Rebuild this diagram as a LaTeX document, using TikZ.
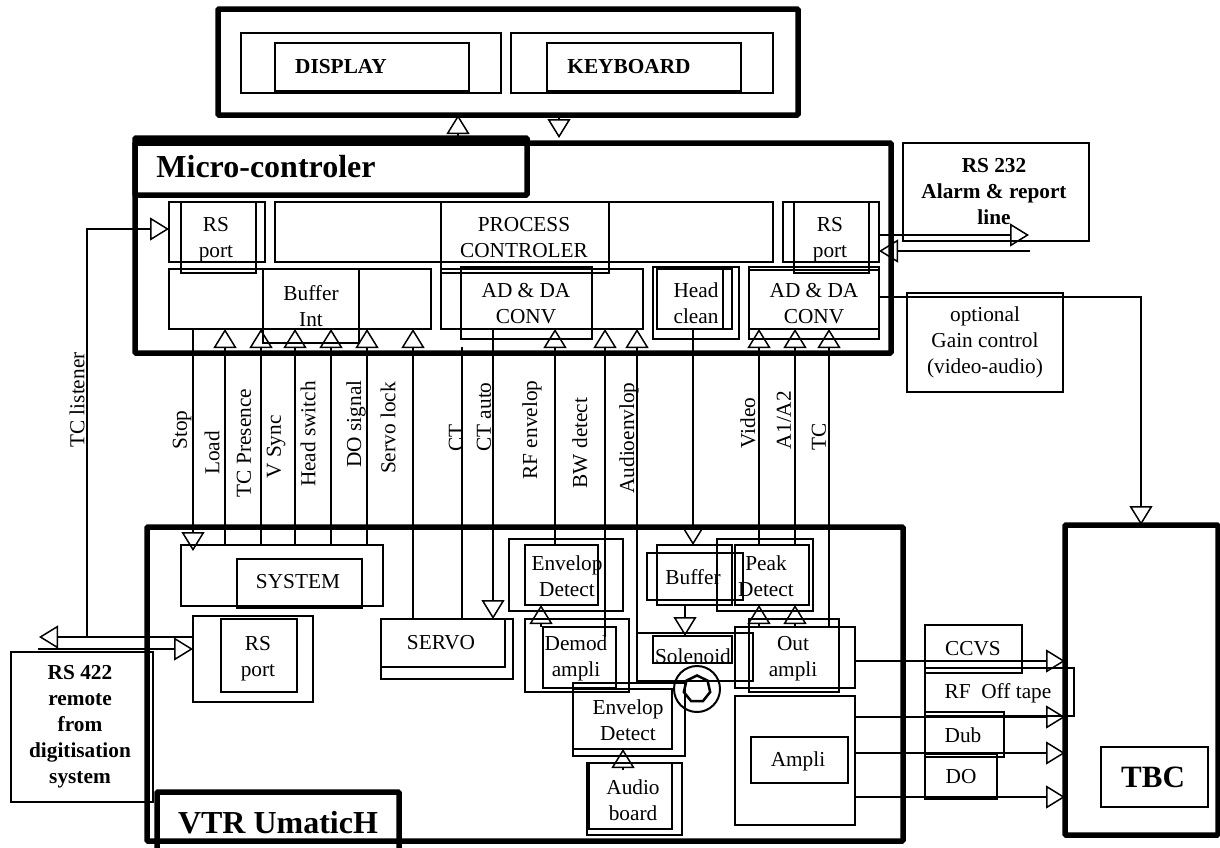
\documentclass[tikz,border=0pt]{standalone}
\usepackage{fontspec}
\setmainfont{Liberation Serif}
\usetikzlibrary{arrows.meta,shapes.geometric}
\tikzset{
  vtr/thin/.style={draw=black, line width=1.5pt, inner sep=0pt, outer sep=0pt},
  vtr/heavy/.style={draw=black, line width=5.5pt, inner sep=0pt, outer sep=0pt, rounded corners=1pt},
  vtr/wire/.style={draw=black, line width=1.5pt},
  vtr/arrow/.style={-{Triangle[open,length=19pt,width=23pt]}, line width=1.5pt, draw=black},
  vtr/label/.style={font=\fontsize{21.3}{26}\selectfont, align=center, inner sep=0pt},
  vtr/note/.style={font=\bfseries\fontsize{21.3}{26}\selectfont, align=center, inner sep=0pt},
  vtr/title/.style={font=\bfseries\fontsize{32}{38}\selectfont, inner sep=0pt},
  vtr/signal/.style={font=\fontsize{21.3}{26}\selectfont, rotate=90, inner sep=0pt}
}
\begin{document}
\begin{tikzpicture}[x=1pt,y=-1pt]
  \useasboundingbox (0,0) rectangle (1220,847);
  \node[vtr/heavy,minimum width=580pt,minimum height=106pt] (panel) at (508,62) {};
  \node[vtr/thin,minimum width=260pt,minimum height=60pt] (dispOut) at (371,63) {};
  \node[vtr/thin,minimum width=194pt,minimum height=48pt] (dispIn) at (372,67) {};
  \node[vtr/thin,minimum width=262pt,minimum height=60pt] (keyOut) at (642,63) {};
  \node[vtr/thin,minimum width=194pt,minimum height=48pt] (keyIn) at (644,67) {};
  \node[vtr/note] (dispText) at (341,67) {DISPLAY};
  \node[vtr/note] (keyText) at (629,67) {KEYBOARD};

  \node[vtr/heavy,minimum width=756pt,minimum height=210pt] (micro) at (513,248) {};
  \node[vtr/heavy,minimum width=392pt,minimum height=57pt] (microTitle) at (331,166.5) {};
  \node[vtr/title] (microText) at (266,167) {Micro-controler};
  \node[vtr/thin,minimum width=96pt,minimum height=60pt] (rsOut) at (217,232) {};
  \node[vtr/thin,minimum width=75pt,minimum height=71pt] (rsIn) at (218.5,237.5) {};
  \node[vtr/label] (rsText) at (216,239.5) {RS\\port};
  \node[vtr/thin,minimum width=498pt,minimum height=60pt] (procOut) at (524,232) {};
  \node[vtr/thin,minimum width=168pt,minimum height=71pt] (procIn) at (525,237.5) {};
  \node[vtr/label] (procText) at (524,238) {PROCESS\\CONTROLER};
  \node[vtr/thin,minimum width=96pt,minimum height=60pt] (rsrOut) at (831,232) {};
  \node[vtr/thin,minimum width=75pt,minimum height=71pt] (rsrIn) at (831.5,237.5) {};
  \node[vtr/label] (rsrText) at (830,239.5) {RS\\port};
  \node[vtr/thin,minimum width=262pt,minimum height=60pt] (bufOut) at (300,299) {};
  \node[vtr/thin,minimum width=96pt,minimum height=74pt] (bufIn) at (311,306) {};
  \node[vtr/label] (bufText) at (311,306) {Buffer\\Int};
  \node[vtr/thin,minimum width=202pt,minimum height=60pt] (adOut) at (542,299) {};
  \node[vtr/thin,minimum width=131pt,minimum height=72pt] (adIn) at (526.5,303) {};
  \node[vtr/label] (adText) at (526,304) {AD \& DA\\CONV};
  \node[vtr/thin,minimum width=86pt,minimum height=72pt] (headOut) at (696,303) {};
  \node[vtr/thin,minimum width=75pt,minimum height=60pt] (headIn) at (694.5,299) {};
  \node[vtr/thin,minimum width=66pt,minimum height=60pt] (headStrip) at (690,299) {};
  \node[vtr/label] (headText) at (696,303) {Head\\clean};
  \node[vtr/thin,minimum width=130pt,minimum height=72pt] (adrOut) at (814,303) {};
  \node[vtr/thin,minimum width=130pt,minimum height=59pt] (adrIn) at (814,299.5) {};
  \node[vtr/label] (adrText) at (814,304) {AD \& DA\\CONV};

  \node[vtr/thin,minimum width=186pt,minimum height=98pt] (rsAlarm) at (996,192) {};
  \node[vtr/note] (rsAlarmText) at (994,192) {RS 232\\Alarm \& report\\line};
  \node[vtr/thin,minimum width=156pt,minimum height=99pt] (gain) at (985,342.5) {};
  \node[vtr/label] (gainText) at (985,342.5) {optional\\Gain control\\(video-audio)};

  \node[vtr/heavy,minimum width=756pt,minimum height=314pt] (vtr) at (525,684) {};
  \node[vtr/heavy,minimum width=242pt,minimum height=62pt] (vtrTitle) at (278,823) {};
  \node[vtr/title] (vtrText) at (278,823) {VTR UmaticH};
  \node[vtr/thin,minimum width=202pt,minimum height=61pt] (sysOut) at (282,575.5) {};
  \node[vtr/thin,minimum width=125pt,minimum height=49pt] (sysIn) at (299.5,583.5) {};
  \node[vtr/label] (sysText) at (298,582) {SYSTEM};
  \node[vtr/thin,minimum width=120pt,minimum height=86pt] (portOut) at (253,659) {};
  \node[vtr/thin,minimum width=76pt,minimum height=73pt] (portIn) at (259,655.5) {};
  \node[vtr/label] (portText) at (258,659) {RS\\port};
  \node[vtr/thin,minimum width=142pt,minimum height=150pt] (remote) at (82,727) {};
  \node[vtr/note] (remoteText) at (80,727) {RS 422\\remote\\from\\digitisation\\system};
  \node[vtr/thin,minimum width=132pt,minimum height=60pt] (servoOut) at (447,649) {};
  \node[vtr/thin,minimum width=124pt,minimum height=48pt] (servoIn) at (443,643) {};
  \node[vtr/label] (servoText) at (441,643) {SERVO};
  \node[vtr/thin,minimum width=114pt,minimum height=72pt] (envOut) at (566,575) {};
  \node[vtr/thin,minimum width=73pt,minimum height=60pt] (envIn) at (561.5,575) {};
  \node[vtr/label] (envText) at (567,576) {Envelop\\Detect};
  \node[vtr/thin,minimum width=104pt,minimum height=73pt] (demodOut) at (577,655.5) {};
  \node[vtr/thin,minimum width=73pt,minimum height=61pt] (demodIn) at (579.5,657.5) {};
  \node[vtr/label] (demodText) at (576,658) {Demod\\ampli};
  \node[vtr/thin,minimum width=96pt,minimum height=47pt] (bufferOut) at (695,576.5) {};
  \node[vtr/thin,minimum width=75pt,minimum height=60pt] (bufferIn) at (694.5,575) {};
  \node[vtr/label] (bufferText) at (693,577) {Buffer};
  \node[vtr/thin,minimum width=96pt,minimum height=72pt] (peakOut) at (765,575) {};
  \node[vtr/thin,minimum width=74pt,minimum height=60pt] (peakIn) at (772,575) {};
  \node[vtr/label] (peakText) at (766,576) {Peak\\Detect};
  \node[vtr/thin,minimum width=116pt,minimum height=48pt] (solOut) at (695,657) {};
  \node[vtr/thin,minimum width=79pt,minimum height=27pt] (solIn) at (692.5,649.5) {};
  \node[vtr/label] (solText) at (693,656) {Solenoid};
  \node[vtr/thin,minimum width=90pt,minimum height=73pt] (outOut) at (794,655.5) {};
  \node[vtr/thin,minimum width=120pt,minimum height=61pt] (outIn) at (795,657.5) {};
  \node[vtr/label] (outText) at (793,659) {Out\\ampli};
  \node[vtr/thin,minimum width=120pt,minimum height=129pt] (ampOut) at (795,760.5) {};
  \node[vtr/thin,minimum width=97pt,minimum height=46pt] (ampIn) at (799.5,760) {};
  \node[vtr/label] (ampText) at (798,761) {Ampli};
  \node[vtr/thin,minimum width=112pt,minimum height=73pt] (lowOut) at (629,719.5) {};
  \node[vtr/thin,minimum width=99pt,minimum height=60pt] (lowIn) at (622.5,719) {};
  \node[vtr/label] (lowText) at (628,720) {Envelop\\Detect};
  \node[vtr/thin,minimum width=95pt,minimum height=72pt] (audioOut) at (634.5,799) {};
  \node[vtr/thin,minimum width=83pt,minimum height=66pt] (audioIn) at (630.5,796) {};
  \node[vtr/label] (audioText) at (633,800) {Audio\\board};
  \node[vtr/thin,circle,minimum size=46pt,line width=2pt] (headRing) at (697,689) {};
  \node[vtr/thin,regular polygon,regular polygon sides=7,minimum size=27pt,line width=2.5pt] (headHub) at (697,689) {};

  \node[vtr/thin,minimum width=97pt,minimum height=48pt] (ccvs) at (973.5,649) {};
  \node[vtr/label] (ccvsText) at (973,649) {CCVS};
  \node[vtr/thin,minimum width=149pt,minimum height=48pt] (rfTape) at (999.5,692) {};
  \node[vtr/label] (rfText) at (998,693) {RF\ \ Off tape};
  \node[vtr/thin,minimum width=79pt,minimum height=45pt] (dub) at (964.5,734.5) {};
  \node[vtr/label] (dubText) at (963,735) {Dub};
  \node[vtr/thin,minimum width=72pt,minimum height=45pt] (doBox) at (961,776.5) {};
  \node[vtr/label] (doText) at (961,777) {DO};

  \node[vtr/heavy,minimum width=153pt,minimum height=310pt] (tbc) at (1141.5,680) {};
  \node[vtr/thin,minimum width=107pt,minimum height=60pt] (tbcIn) at (1154.5,777) {};
  \node[vtr/title,font=\bfseries\fontsize{31}{36}\selectfont] (tbcText) at (1153,777) {TBC};

  \node[vtr/signal] (tcListen) at (77,400) {TC listener};
  \node[vtr/signal] (stopText) at (182,430) {Stop};
  \node[vtr/signal] (loadText) at (212,453) {Load};
  \node[vtr/signal] (tcPres) at (244,443) {TC Presence};
  \node[vtr/signal] (vSync) at (276,447) {V Sync};
  \node[vtr/signal] (headSw) at (308,434) {Head switch};
  \node[vtr/signal] (doSig) at (356,424) {DO signal};
  \node[vtr/signal] (servoLock) at (388,428) {Servo lock};
  \node[vtr/signal] (ctText) at (456,438) {CT};
  \node[vtr/signal] (ctAuto) at (484,417) {CT auto};
  \node[vtr/signal] (rfEnv) at (532,430) {RF envelop};
  \node[vtr/signal] (bwDet) at (580,443) {BW detect};
  \node[vtr/signal] (audioEnv) at (629,438) {Audioenvlop};
  \node[vtr/signal] (videoText) at (748,423) {Video};
  \node[vtr/signal] (aText) at (784,420) {A1/A2};
  \node[vtr/signal] (tcText) at (819,437) {TC};

  \coordinate (stopEnd) at (193,551);
  \coordinate (ctTop) at (462,347);
  \coordinate (bwStart) at (605,637);
  \coordinate (audioStart) at (623,770);
  \coordinate (alarmOut) at (1029,235);
  \coordinate (alarmIn) at (1030,251);
  \coordinate (listenTurn) at (87,637);
  \coordinate (remoteOut) at (39,637);
  \coordinate (remoteIn) at (38,649);

  \draw[vtr/arrow] (microTitle.north -| 458,0) -- (panel.south -| 458,0);
  \draw[vtr/arrow] (panel.south -| 559,0) -- (microTitle.north -| 559,0);
  \draw[vtr/arrow] (bufOut.south -| 193,0) -- (stopEnd);
  \draw[vtr/arrow] (sysOut.north -| 225,0) -- (bufOut.south -| 225,0);
  \draw[vtr/arrow] (sysOut.north -| 261,0) -- (bufOut.south -| 261,0);
  \draw[vtr/arrow] (sysOut.north -| 295,0) -- (bufOut.south -| 295,0);
  \draw[vtr/arrow] (sysOut.north -| 331,0) -- (bufOut.south -| 331,0);
  \draw[vtr/arrow] (sysOut.north -| 367,0) -- (bufOut.south -| 367,0);
  \draw[vtr/arrow] (servoOut.north -| 413,0) -- (bufOut.south -| 413,0);
  \draw[vtr/wire] (servoOut.north -| 462,0) -- (ctTop);
  \draw[vtr/arrow] (adOut.south -| 493,0) -- (servoOut.north -| 493,0);
  \draw[vtr/arrow] (envIn.north -| 555,0) -- (adOut.south -| 555,0);
  \draw[vtr/arrow] (bwStart) -- (adOut.south -| 605,0);
  \draw[vtr/arrow] (lowOut.north -| 637,0) -- (adOut.south -| 637,0);
  \draw[vtr/arrow] (headIn.south -| 693,0) -- (bufferIn.north -| 693,0);
  \draw[vtr/arrow] (peakIn.north -| 759,0) -- (adrIn.south -| 759,0);
  \draw[vtr/arrow] (peakIn.north -| 795,0) -- (adrIn.south -| 795,0);
  \draw[vtr/arrow] (outIn.north -| 829,0) -- (adrIn.south -| 829,0);
  \draw[vtr/arrow] (demodIn.north -| 541,0) -- (envIn.south -| 541,0);
  \draw[vtr/arrow] (bufferIn.south -| 685,0) -- (solIn.north -| 685,0);
  \draw[vtr/arrow] (outIn.north -| 759,0) -- (peakIn.south -| 759,0);
  \draw[vtr/arrow] (outIn.north -| 795,0) -- (peakIn.south -| 795,0);
  \draw[vtr/arrow] (audioStart) -- (lowIn.south -| 623,0);
  \draw[vtr/arrow] (outIn.east |- 0,661) -- (tbc.west |- 0,661);
  \draw[vtr/arrow] (ampOut.east |- 0,717) -- (tbc.west |- 0,717);
  \draw[vtr/arrow] (ampOut.east |- 0,753) -- (tbc.west |- 0,753);
  \draw[vtr/arrow] (ampOut.east |- 0,797) -- (tbc.west |- 0,797);
  \draw[vtr/arrow] (rsrOut.east |- 0,235) -- (alarmOut);
  \draw[vtr/arrow] (alarmIn) -- (rsrOut.east |- 0,251);
  \draw[vtr/arrow] (adrIn.east |- 0,297) -| (tbc.north -| 1141,0);
  \draw[vtr/arrow] (portOut.west |- 0,637) -- (remoteOut);
  \draw[vtr/arrow] (remoteIn) -- (portOut.west |- 0,649);
  \draw[vtr/arrow] (listenTurn) |- (rsOut.west |- 0,229);
\end{tikzpicture}
\end{document}
